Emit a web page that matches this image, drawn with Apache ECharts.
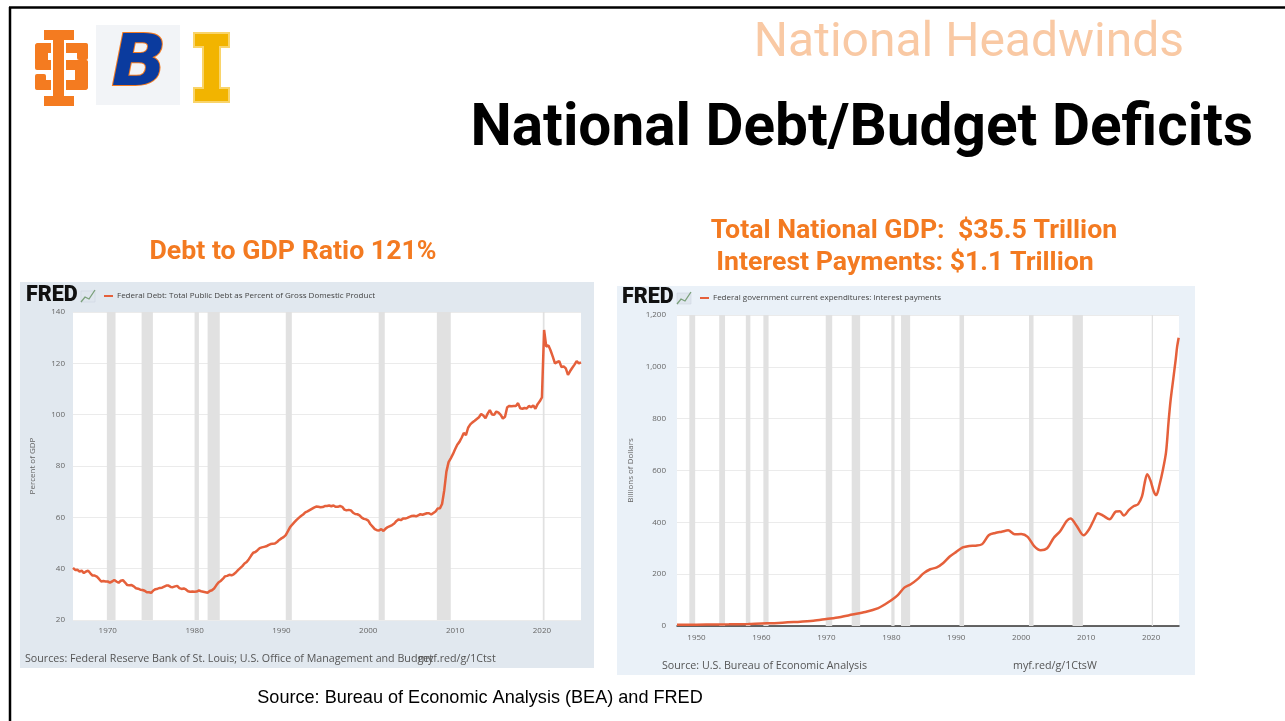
<!DOCTYPE html>
<html>
<head>
<meta charset="utf-8">
<script src="https://cdn.jsdelivr.net/npm/echarts@6/dist/echarts.min.js"></script>
<style>
html,body{margin:0;padding:0;background:#fff;}
#main{width:1285px;height:721px;}
</style>
</head>
<body>
<div id="main"></div>
<script>
// ---------- DATA ----------
const slideTitle = 'National Headwinds';
const mainTitle = 'National Debt/Budget Deficits';
const leftHeading = 'Debt to GDP Ratio 121%';
const rightHeading1 = 'Total National GDP:  $35.5 Trillion';
const rightHeading2 = 'Interest Payments: $1.1 Trillion';
const footnote = 'Source: Bureau of Economic Analysis (BEA) and FRED';

const debtSeriesName = 'Federal Debt: Total Public Debt as Percent of Gross Domestic Product';
const debtStartYear = 1966; // quarterly observations from 1966 Q1
const debtValues = [
  40.3, 39.5, 39.6, 38.9,   // 1966
  39.2, 38.3, 38.9, 39.2,   // 1967
  38.2, 37.3, 37.3, 36.9,   // 1968
  36.0, 35.0, 35.2, 35.0,   // 1969
  35.0, 34.6, 35.0, 35.6,   // 1970
  35.0, 34.5, 35.3, 35.5,   // 1971
  34.6, 33.6, 33.5, 33.6,   // 1972
  33.1, 32.4, 32.2, 31.8,   // 1973
  31.7, 31.4, 30.8, 30.8,   // 1974
  30.6, 31.5, 32.0, 32.2,   // 1975
  32.5, 32.6, 33.0, 33.4,   // 1976
  33.4, 32.9, 32.8, 33.1,   // 1977
  33.3, 32.4, 32.1, 32.3,   // 1978
  31.9, 31.2, 31.0, 31.1,   // 1979
  31.0, 31.1, 31.5, 31.2,   // 1980
  31.0, 30.8, 30.6, 31.3,   // 1981
  31.6, 32.3, 33.5, 34.6,   // 1982
  35.2, 36.0, 37.0, 37.2,   // 1983
  37.6, 37.4, 37.8, 38.5,   // 1984
  39.4, 40.2, 41.0, 42.0,   // 1985
  42.6, 43.7, 45.0, 46.2,   // 1986
  46.5, 47.2, 48.0, 48.3,   // 1987
  48.5, 48.7, 49.2, 49.6,   // 1988
  49.7, 49.8, 50.4, 51.2,   // 1989
  51.8, 52.3, 53.1, 54.6,   // 1990
  56.2, 57.2, 58.1, 59.0,   // 1991
  59.8, 60.5, 61.1, 61.9,   // 1992
  62.3, 62.8, 63.3, 63.8,   // 1993
  64.2, 64.1, 63.9, 64.0,   // 1994
  64.4, 64.4, 64.6, 64.3,   // 1995
  64.6, 64.1, 64.1, 64.4,   // 1996
  64.1, 63.0, 62.7, 62.9,   // 1997
  62.7, 61.8, 61.3, 61.2,   // 1998
  60.8, 59.9, 59.4, 59.2,   // 1999
  58.7, 57.3, 56.4, 55.4,   // 2000
  55.0, 54.9, 55.4, 54.7,   // 2001
  55.6, 56.2, 56.6, 57.0,   // 2002
  57.6, 58.6, 59.2, 58.9,   // 2003
  59.5, 59.5, 59.8, 60.2,   // 2004
  60.5, 60.6, 60.4, 60.8,   // 2005
  61.2, 61.0, 61.3, 61.6,   // 2006
  61.6, 61.1, 61.7, 62.3,   // 2007
  63.4, 63.5, 65.2, 70.5,   // 2008
  77.8, 81.5, 83.0, 84.6,   // 2009
  86.5, 88.3, 89.4, 91.0,   // 2010
  92.9, 92.0, 94.9, 96.2,   // 2011
  97.0, 97.6, 98.3, 99.0,   // 2012
  100.3, 99.7, 98.6, 100.4, // 2013
  101.8, 100.1, 100.0, 101.2, // 2014
  100.8, 99.9, 98.5, 99.2,  // 2015
  102.9, 103.4, 103.3, 103.4, // 2016
  103.4, 104.5, 102.5, 102.3, // 2017
  102.6, 102.4, 103.4, 102.9, // 2018
  103.6, 102.3, 104.1, 105.2, // 2019
  106.7, 133.0, 126.5, 127.0, // 2020
  125.0, 122.6, 120.0, 120.5, // 2021
  120.8, 118.5, 118.8, 118.0, // 2022
  115.5, 117.0, 118.3, 119.5, // 2023
  120.9, 120.0, 120.4         // 2024
];

const interestSeriesName = 'Federal government current expenditures: Interest payments';
const interestYears = [
  1947.0, 1950, 1953, 1955, 1958, 1960, 1962, 1965, 1968, 1970, 1972, 1974, 1976, 1978, 1979,
  1980, 1981, 1982, 1983, 1984, 1985, 1986, 1987, 1988, 1989, 1990, 1991, 1992, 1993, 1994,
  1995, 1996, 1997, 1998, 1999, 2000, 2001, 2002, 2003, 2004, 2005, 2006, 2007, 2007.6, 2008.5,
  2009.6, 2010.5, 2011.2, 2011.8, 2012.6, 2013.6, 2014.6, 2015.2, 2015.8, 2016.6, 2017.3, 2018.0,
  2018.6, 2019.0, 2019.4, 2019.9, 2020.4, 2020.8, 2021.3, 2021.8, 2022.3, 2022.7, 2023.0, 2023.4,
  2023.8, 2024.0, 2024.25
];
const interestValues = [
  4.5, 5, 6, 6.5, 8, 10, 11, 15, 20, 27, 34, 44, 54, 69, 83,
  99, 119, 148, 161, 180, 204, 219, 226, 243, 268, 286, 303, 309, 310, 316,
  350, 359, 364, 369, 354, 355, 344, 308, 292, 300, 340, 366, 405, 415, 388,
  350, 375, 410, 435, 426, 412, 442, 443, 426, 448, 462, 470,
  500, 550, 586, 562, 520, 505, 545, 600, 670, 790, 870, 950,
  1030, 1075, 1112
];

// NBER recessions [start, end] in decimal years
const recessions = [
  [1948.9, 1949.8], [1953.5, 1954.4], [1957.6, 1958.3], [1960.3, 1961.1],
  [1969.9, 1970.9], [1973.9, 1975.2], [1980.0, 1980.5], [1981.5, 1982.9],
  [1990.5, 1991.2], [2001.2, 2001.9], [2007.9, 2009.5], [2020.1, 2020.3]
];

const debtYTicks = [20, 40, 60, 80, 100, 120, 140];
const interestYTicks = [0, 200, 400, 600, 800, 1000, 1200];
const debtXTicks = [1970, 1980, 1990, 2000, 2010, 2020];
const interestXTicks = [1950, 1960, 1970, 1980, 1990, 2000, 2010, 2020];

const leftSources = 'Sources: Federal Reserve Bank of St. Louis; U.S. Office of Management and Budget';
const leftLink = 'myf.red/g/1Ctst';
const rightSources = 'Source: U.S. Bureau of Economic Analysis';
const rightLink = 'myf.red/g/1CtsW';

// ---------- BUILD ----------
const debtData = debtValues.map((v, i) => [debtStartYear + i / 4, v]);
const interestData = interestYears.map((y, i) => [y, interestValues[i]]);

const LINE = '#e5603b';
const BAND = '#e1e1e1';
const AX = '#666';

function bands(min, max) {
  return recessions.filter(r => r[1] > min && r[0] < max)
    .map(r => [{ xAxis: Math.max(r[0], min) }, { xAxis: Math.min(r[1], max) }]);
}

const chart = echarts.init(document.getElementById('main'), null, { renderer: 'canvas' });

const g = [];
// slide border
g.push({ type: 'line', shape: { x1: 9, y1: 7.5, x2: 1285, y2: 7.5 }, style: { stroke: '#000', lineWidth: 2.5 }, z: 100 });
g.push({ type: 'line', shape: { x1: 10, y1: 7, x2: 10, y2: 721 }, style: { stroke: '#000', lineWidth: 2.5 }, z: 100 });

// panels
g.push({ type: 'rect', shape: { x: 20, y: 282, width: 574, height: 386 }, style: { fill: '#e1e8ef' }, z: -10 });
g.push({ type: 'rect', shape: { x: 617, y: 286, width: 578, height: 389 }, style: { fill: '#eaf1f8' }, z: -10 });

// logos: ISU monogram
const isu = '#f47b20';
[[35, 43, 53, 10, 4], [35, 43, 13, 26, 3], [77, 43, 11, 17, 2], [35, 60, 53, 10, 2], [75, 60, 13, 30, 3], [35, 80, 53, 10, 4], [35, 74, 11, 16, 2]].forEach(r => {
  g.push({ type: 'rect', shape: { x: r[0], y: r[1], width: r[2], height: r[3], r: r[4] }, style: { fill: isu }, z: 5 });
});
g.push({ type: 'rect', shape: { x: 52, y: 30, width: 13, height: 76 }, style: { fill: isu, stroke: '#fff', lineWidth: 2 }, z: 6 });
g.push({ type: 'rect', shape: { x: 44, y: 30, width: 30, height: 10 }, style: { fill: isu }, z: 6 });
g.push({ type: 'rect', shape: { x: 44, y: 96, width: 30, height: 10 }, style: { fill: isu }, z: 6 });
// Boise B
g.push({ type: 'rect', shape: { x: 96, y: 25, width: 84, height: 80 }, style: { fill: '#f2f4f7' }, z: 4 });
g.push({ type: 'text', x: 139, y: 66, style: { text: 'B', fontFamily: 'DejaVu Sans', fontWeight: 'bold', fontStyle: 'italic', fontSize: 72, fill: '#0b3b9e', stroke: '#f47b20', lineWidth: 2, align: 'center', verticalAlign: 'middle' }, z: 5 });
// Idaho I
g.push({ type: 'polygon', shape: { points: [[194,33],[229,33],[229,47],[220,47],[220,88],[229,88],[229,102],[194,102],[194,88],[203,88],[203,47],[194,47]] }, style: { fill: '#f2b400', stroke: '#f9d46a', lineWidth: 2 }, z: 5 });

// titles
g.push({ type: 'text', x: 969, y: 44, style: { text: slideTitle, fontFamily: 'Roboto', fontSize: 48, fill: '#f9c9a4', align: 'center', verticalAlign: 'middle' } });
g.push({ type: 'text', x: 1253, y: 130, style: { text: mainTitle, fontFamily: 'Roboto', fontWeight: 'bold', fontSize: 58.5, fill: '#000', align: 'right', verticalAlign: 'middle' } });
g.push({ type: 'text', x: 293, y: 252, style: { text: leftHeading, fontFamily: 'Roboto', fontWeight: 'bold', fontSize: 26.7, fill: '#f37a21', align: 'center', verticalAlign: 'middle' } });
g.push({ type: 'text', x: 914, y: 231, style: { text: rightHeading1, fontFamily: 'Roboto', fontWeight: 'bold', fontSize: 26.7, fill: '#f37a21', align: 'center', verticalAlign: 'middle' } });
g.push({ type: 'text', x: 905, y: 263, style: { text: rightHeading2, fontFamily: 'Roboto', fontWeight: 'bold', fontSize: 26.7, fill: '#f37a21', align: 'center', verticalAlign: 'middle' } });
g.push({ type: 'text', x: 480, y: 698, style: { text: footnote, fontFamily: 'Liberation Sans', fontSize: 18.1, fill: '#000', align: 'center', verticalAlign: 'middle' } });

// FRED headers
function fredHeader(x, y, legendText) {
  g.push({ type: 'text', x: x, y: y, style: { text: 'FRED', fontFamily: 'Roboto', fontWeight: 900, fontSize: 21.5, fill: '#111', verticalAlign: 'middle' }, z: 10 });
  g.push({ type: 'rect', shape: { x: x + 55, y: y - 5, width: 14, height: 11 }, style: { fill: '#dfe6ee', stroke: '#c9d3dd', lineWidth: 0.5 }, z: 10 });
  g.push({ type: 'polyline', shape: { points: [[x + 55, y + 6], [x + 59, y + 1], [x + 63, y + 3], [x + 69, y - 6]] }, style: { stroke: '#7aa07a', lineWidth: 1.3, fill: null }, z: 11 });
  g.push({ type: 'line', shape: { x1: x + 78, y1: y, x2: x + 87, y2: y }, style: { stroke: LINE, lineWidth: 2 }, z: 10 });
  g.push({ type: 'text', x: x + 91, y: y, style: { text: legendText, fontFamily: 'Open Sans', fontSize: 8, fill: '#444', verticalAlign: 'middle' }, z: 10 });
}
fredHeader(26, 296, debtSeriesName);
fredHeader(622, 298, interestSeriesName);

// sources
g.push({ type: 'text', x: 25, y: 659, style: { text: leftSources, fontFamily: 'Open Sans', fontSize: 10.7, fill: '#555', verticalAlign: 'middle' } });
g.push({ type: 'text', x: 418, y: 659, style: { text: leftLink, fontFamily: 'Open Sans', fontSize: 10.7, fill: '#555', verticalAlign: 'middle' } });
g.push({ type: 'text', x: 662, y: 666, style: { text: rightSources, fontFamily: 'Open Sans', fontSize: 10.7, fill: '#555', verticalAlign: 'middle' } });
g.push({ type: 'text', x: 1013, y: 666, style: { text: rightLink, fontFamily: 'Open Sans', fontSize: 10.7, fill: '#555', verticalAlign: 'middle' } });

const labelStyle = { color: AX, fontSize: 8, fontFamily: 'Open Sans' };

const option = {
  backgroundColor: '#fff',
  animation: false,
  graphic: g,
  grid: [
    { left: 73, top: 312, width: 508, height: 308, show: true, backgroundColor: '#fff', borderWidth: 0 },
    { left: 677, top: 315, width: 502, height: 311, show: true, backgroundColor: '#fff', borderWidth: 0 }
  ],
  xAxis: [
    { type: 'value', gridIndex: 0, min: 1966, max: 2024.5,
      axisLine: { show: false }, axisTick: { show: false }, splitLine: { show: false },
      axisLabel: Object.assign({ customValues: debtXTicks, margin: 7, formatter: v => String(v) }, labelStyle) },
    { type: 'value', gridIndex: 1, min: 1947, max: 2024.3,
      axisLine: { show: true, onZero: false, lineStyle: { color: '#333', width: 1.5 } }, axisTick: { show: false }, splitLine: { show: false },
      axisLabel: Object.assign({ customValues: interestXTicks, margin: 8, formatter: v => String(v) }, labelStyle) }
  ],
  yAxis: [
    { type: 'value', gridIndex: 0, min: 20, max: 140, interval: 20,
      name: 'Percent of GDP', nameLocation: 'middle', nameGap: 36, nameRotate: 90,
      nameTextStyle: { color: AX, fontSize: 8, fontFamily: 'Open Sans' },
      axisLine: { show: false }, axisTick: { show: false },
      splitLine: { lineStyle: { color: '#ebebeb', width: 1 } },
      axisLabel: Object.assign({ margin: 8, customValues: debtYTicks }, labelStyle) },
    { type: 'value', gridIndex: 1, min: 0, max: 1200, interval: 200,
      name: 'Billions of Dollars', nameLocation: 'middle', nameGap: 42, nameRotate: 90,
      nameTextStyle: { color: AX, fontSize: 8, fontFamily: 'Open Sans' },
      axisLine: { show: false }, axisTick: { show: false },
      splitLine: { lineStyle: { color: '#ebebeb', width: 1 } },
      axisLabel: Object.assign({ margin: 11, customValues: interestYTicks, formatter: v => v.toLocaleString('en-US') }, labelStyle) }
  ],
  series: [
    { type: 'line', xAxisIndex: 0, yAxisIndex: 0, data: debtData, showSymbol: false,
      lineStyle: { color: LINE, width: 2.5 }, z: 3,
      markArea: { silent: true, itemStyle: { color: BAND }, data: bands(1966, 2024.5) } },
    { type: 'line', xAxisIndex: 1, yAxisIndex: 1, data: interestData, showSymbol: false, smooth: 0.3,
      lineStyle: { color: LINE, width: 2.5 }, z: 3,
      markArea: { silent: true, itemStyle: { color: BAND }, data: bands(1947, 2024.3) } }
  ]
};
chart.setOption(option);
</script>
</body>
</html>
